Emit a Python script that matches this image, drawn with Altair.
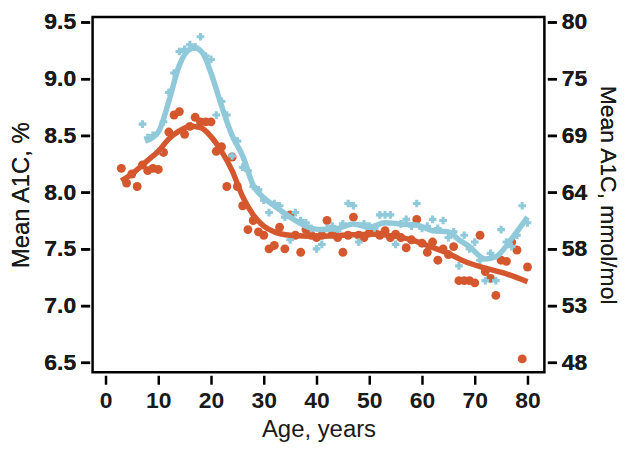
import altair as alt
import pandas as pd

# Red circles (group 1) - age, mean A1C %
red_age = [3, 4, 5, 6, 7, 8, 9, 10, 11, 12, 13, 14, 15, 16, 17, 18, 19, 20, 21, 22, 23, 24, 25, 26, 27, 28, 29, 30,
           31, 32, 33, 34, 35, 36, 37, 38, 39, 40, 41, 42, 43, 44, 45, 46, 47, 48, 49, 50, 51, 52, 53, 54, 55, 56,
           57, 58, 59, 60, 61, 62, 63, 64, 65, 66, 67, 68, 69, 70, 71, 72, 73, 74, 75, 76, 77, 78, 79, 80]
red_val = [8.21, 8.08, 8.16, 8.05, 8.24, 8.19, 8.21, 8.20, 8.35, 8.53, 8.68, 8.71, 8.51, 8.58, 8.66, 8.62, 8.62,
           8.62, 8.36, 8.40, 8.05, 8.31, 8.05, 7.88, 7.67, 7.75, 7.65, 7.62, 7.50, 7.53, 7.69, 7.50, 7.80, 7.62,
           7.47, 7.67, 7.62, 7.60, 7.62, 7.75, 7.63, 7.60, 7.47, 7.62, 7.78, 7.62, 7.60, 7.64, 7.65, 7.62, 7.66,
           7.60, 7.63, 7.60, 7.51, 7.58, 7.76, 7.55, 7.47, 7.56, 7.40, 7.50, 7.45, 7.52, 7.22, 7.22, 7.22, 7.20,
           7.62, 7.30, 7.24, 7.09, 7.40, 7.39, 7.56, 7.49, 6.53, 7.34]

# Blue crosses (group 2)
blue_age = [7, 8, 9, 10, 11, 12, 13, 14, 15, 16, 17, 18, 19, 20, 21, 22, 23, 24, 25, 26, 27, 28, 29, 30, 31, 32,
            33, 34, 35, 36, 37, 38, 39, 40, 41, 42, 43, 44, 45, 46, 47, 48, 49, 50, 51, 52, 53, 54, 55, 56, 57, 58,
            59, 60, 61, 62, 63, 64, 65, 66, 67, 68, 69, 70, 71, 72, 73, 74, 75, 76, 77, 78, 79, 80]
blue_val = [8.60, 8.48, 8.50, 8.36, 8.62, 8.88, 9.05, 9.24, 9.26, 9.30, 9.28, 9.37, 9.20, 9.17, 8.68, 8.80, 8.68,
            8.32, 8.45, 8.22, 8.19, 8.05, 8.02, 7.93, 7.82, 7.90, 7.88, 7.78, 7.58, 7.82, 7.75, 7.73, 7.68, 7.50,
            7.54, 7.68, 7.70, 7.66, 7.72, 7.90, 7.88, 7.56, 7.72, 7.70, 7.68, 7.80, 7.80, 7.80, 7.54, 7.72, 7.76,
            7.70, 7.90, 7.68, 7.70, 7.76, 7.68, 7.75, 7.60, 7.65, 7.35, 7.62, 7.50, 7.56, 7.40, 7.22, 7.46, 7.22,
            7.67, 7.56, 7.52, 7.62, 7.88, 7.73]

# Smoothed curves
red_fit_age = [3, 5, 8, 10, 12, 14, 16, 18, 20, 22, 24, 26, 28, 30, 32, 35, 40, 45, 50, 55, 58, 61, 65, 68, 72,
               76, 80]
red_fit_val = [8.10, 8.16, 8.28, 8.36, 8.47, 8.54, 8.58, 8.57, 8.49, 8.36, 8.19, 7.96, 7.80, 7.70, 7.65, 7.62,
               7.61, 7.62, 7.63, 7.61, 7.58, 7.53, 7.46, 7.39, 7.33, 7.28, 7.21]
blue_fit_age = [7.5, 10, 12, 14, 16, 17, 18.5, 20, 22, 24, 26, 28, 30, 32, 35, 38, 41, 44, 47, 50, 53, 56, 59,
                62, 65, 67, 69, 72, 74, 77, 80]
blue_fit_val = [8.45, 8.53, 8.80, 9.12, 9.26, 9.27, 9.22, 9.05, 8.76, 8.50, 8.32, 8.06, 7.95, 7.88, 7.78, 7.70,
                7.67, 7.68, 7.72, 7.69, 7.73, 7.72, 7.71, 7.66, 7.65, 7.58, 7.52, 7.41, 7.43, 7.59, 7.78]

# Axis ticks
x_ticks = [0, 10, 20, 30, 40, 50, 60, 70, 80]
y_ticks = [6.5, 7.0, 7.5, 8.0, 8.5, 9.0, 9.5]
mmol_labels = ["48", "53", "58", "64", "69", "75", "80"]

RED = "#D4572E"
BLUE = "#8FC9DA"
FONT = "Liberation Sans"

red_df = pd.DataFrame({"age": red_age, "a1c": red_val})
blue_df = pd.DataFrame({"age": blue_age, "a1c": blue_val})
red_fit = pd.DataFrame({"age": red_fit_age, "a1c": red_fit_val})
blue_fit = pd.DataFrame({"age": blue_fit_age, "a1c": blue_fit_val})

xscale = alt.Scale(domain=[-2.45, 83.2], nice=False, zero=False)
yscale = alt.Scale(domain=[6.412, 9.544], nice=False, zero=False)

x_enc = alt.X("age:Q", scale=xscale, axis=alt.Axis(
    values=x_ticks, title="Age, years", orient="bottom", format="d"))
y_left = alt.Y("a1c:Q", scale=yscale, axis=alt.Axis(
    values=y_ticks, title="Mean A1C, %", orient="left", format=".1f"))

label_map = "{" + ",".join(f"'{v:.1f}':'{l}'" for v, l in zip(y_ticks, mmol_labels)) + "}"
y_right = alt.Y("a1c:Q", scale=yscale, axis=alt.Axis(
    values=y_ticks, title="Mean A1C, mmol/mol", orient="right",
    labelExpr=f"{label_map}[format(datum.value, '.1f')]"))

red_pts = alt.Chart(red_df).mark_circle(size=80, color=RED, opacity=1).encode(x=x_enc, y=y_left)
blue_pts = alt.Chart(blue_df).mark_point(shape="cross", size=60, filled=True, color=BLUE, opacity=1).encode(
    x=x_enc, y=y_right)
red_line = alt.Chart(red_fit).mark_line(color=RED, strokeWidth=5.5, interpolate="monotone").encode(
    x=x_enc, y=y_left)
blue_line = alt.Chart(blue_fit).mark_line(color=BLUE, strokeWidth=5.5, interpolate="monotone").encode(
    x=x_enc, y=y_right)

chart = alt.layer(red_pts, blue_pts, red_line, blue_line).resolve_axis(y="independent").properties(
    width=454, height=357,
    autosize=alt.AutoSizeParams(type="none"),
    padding={"left": 85, "top": 8, "right": 80, "bottom": 70},
).configure_view(
    stroke="black", strokeWidth=2.5
).configure_axis(
    grid=False, domain=False,
    ticks=True, tickColor="black", tickWidth=2.5, tickSize=9, tickOffset=0, offset=3,
    labelFont=FONT, labelFontSize=23, labelFontWeight="bold", labelColor="#1a1a1a", labelPadding=5,
    titleFont=FONT, titleFontSize=24, titleFontWeight="normal", titleColor="#1a1a1a",
).configure_axisLeft(titlePadding=10).configure_axisRight(titlePadding=9, titleFontSize=23).configure_axisBottom(
    titlePadding=6)

chart.save("out.html", embed_options={"renderer": "svg", "actions": False})
